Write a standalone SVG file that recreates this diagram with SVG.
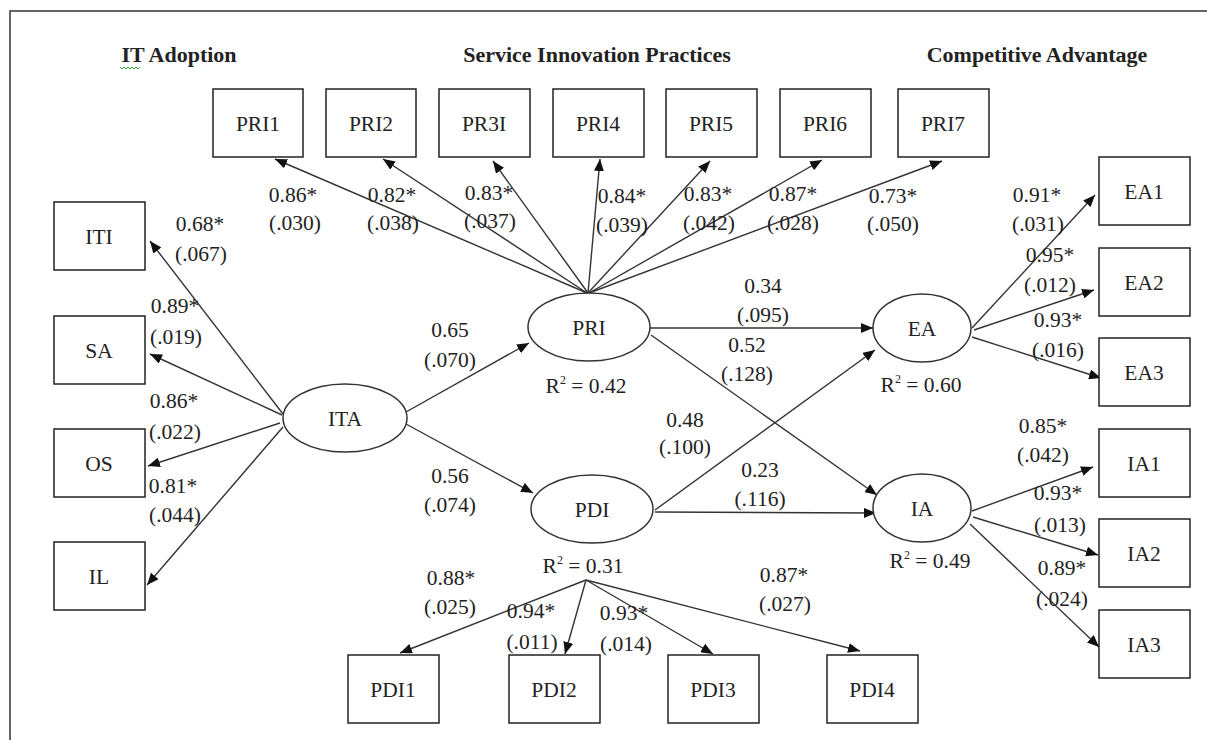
<svg xmlns="http://www.w3.org/2000/svg" width="1207" height="740" viewBox="0 0 1207 740">
<style>
text{font-family:"Liberation Serif","Times New Roman",serif;font-size:21.5px;fill:#222;text-anchor:middle}
.h{font-weight:bold;font-size:22px}
.box{fill:#fff;stroke:#222;stroke-width:1.5}
.ell{fill:#fff;stroke:#333;stroke-width:1.5}
.c{stroke:#333;stroke-width:1.4;fill:none;marker-end:url(#ah)}
</style>
<defs>
<marker id="ah" viewBox="0 0 12 10" refX="12" refY="5" markerWidth="12" markerHeight="10" markerUnits="userSpaceOnUse" orient="auto">
<path d="M0,0 L12,5 L0,10 z" fill="#111"/>
</marker>
</defs>
<rect x="0" y="0" width="1207" height="740" fill="#fff"/>
<rect x="10" y="11" width="1220" height="760" fill="none" stroke="#333" stroke-width="1.5"/>

<g id="headers">
<text class="h" x="179" y="62">IT Adoption</text>
<path d="M120,67 l2,2 l2,-2 l2,2 l2,-2 l2,2 l2,-2 l2,2 l2,-2 l2,2 l2,-2" fill="none" stroke="#3a3" stroke-width="1"/>
<text class="h" x="597" y="62">Service Innovation Practices</text>
<text class="h" x="1037" y="62">Competitive Advantage</text>
</g>

<g id="connectors">
<line class="c" x1="283" y1="414" x2="150" y2="241"/>
<line class="c" x1="282" y1="415" x2="150" y2="354"/>
<line class="c" x1="280" y1="423" x2="148" y2="466"/>
<line class="c" x1="283" y1="427" x2="147" y2="585"/>
<line class="c" x1="406" y1="412" x2="529" y2="343"/>
<line class="c" x1="406" y1="424" x2="533" y2="493"/>
<line class="c" x1="587" y1="293" x2="275" y2="159"/>
<line class="c" x1="587" y1="293" x2="383" y2="159"/>
<line class="c" x1="588" y1="293" x2="493" y2="161"/>
<line class="c" x1="588" y1="293" x2="600" y2="159"/>
<line class="c" x1="588" y1="293" x2="710" y2="161"/>
<line class="c" x1="589" y1="293" x2="822" y2="160"/>
<line class="c" x1="589" y1="293" x2="942" y2="161"/>
<line class="c" x1="650" y1="328" x2="873" y2="328"/>
<line class="c" x1="651" y1="335" x2="877" y2="495"/>
<line class="c" x1="655" y1="510" x2="875" y2="350"/>
<line class="c" x1="655" y1="512" x2="876" y2="513"/>
<line class="c" x1="972" y1="328" x2="1095" y2="195"/>
<line class="c" x1="974" y1="330" x2="1094" y2="290"/>
<line class="c" x1="972" y1="337" x2="1101" y2="378"/>
<line class="c" x1="972" y1="511" x2="1093" y2="467"/>
<line class="c" x1="973" y1="517" x2="1098" y2="555"/>
<line class="c" x1="970" y1="524" x2="1099" y2="647"/>
<line class="c" x1="586" y1="580" x2="400" y2="653"/>
<line class="c" x1="586" y1="580" x2="565" y2="654"/>
<line class="c" x1="586" y1="580" x2="713" y2="654"/>
<line class="c" x1="586" y1="580" x2="860" y2="651"/>
</g>

<g id="labels">
<text x="200" y="231">0.68*</text><text x="201" y="261">(.067)</text>
<text x="175" y="313">0.89*</text><text x="176" y="344">(.019)</text>
<text x="174" y="408">0.86*</text><text x="175" y="439">(.022)</text>
<text x="173" y="493">0.81*</text><text x="175" y="522">(.044)</text>

<text x="293" y="202">0.86*</text><text x="295" y="230">(.030)</text>
<text x="392" y="202">0.82*</text><text x="393" y="230">(.038)</text>
<text x="489" y="200">0.83*</text><text x="490" y="228">(.037)</text>
<text x="622" y="203">0.84*</text><text x="622" y="232">(.039)</text>
<text x="708" y="201">0.83*</text><text x="709" y="230">(.042)</text>
<text x="793" y="201">0.87*</text><text x="793" y="230">(.028)</text>
<text x="893" y="203">0.73*</text><text x="893" y="231">(.050)</text>

<text x="1037" y="202">0.91*</text><text x="1038" y="231">(.031)</text>
<text x="1050" y="262">0.95*</text><text x="1050" y="292">(.012)</text>
<text x="1058" y="327">0.93*</text><text x="1058" y="357">(.016)</text>
<text x="1043" y="433">0.85*</text><text x="1043" y="462">(.042)</text>
<text x="1058" y="500">0.93*</text><text x="1060" y="532">(.013)</text>
<text x="1062" y="575">0.89*</text><text x="1062" y="606">(.024)</text>

<text x="450" y="337">0.65</text><text x="450" y="367">(.070)</text>
<text x="450" y="483">0.56</text><text x="450" y="512">(.074)</text>
<text x="763" y="293">0.34</text><text x="763" y="322">(.095)</text>
<text x="747" y="352">0.52</text><text x="747" y="381">(.128)</text>
<text x="685" y="427">0.48</text><text x="685" y="454">(.100)</text>
<text x="760" y="477">0.23</text><text x="760" y="506">(.116)</text>

<text x="451" y="585">0.88*</text><text x="450" y="614">(.025)</text>
<text x="531" y="618">0.94*</text><text x="532" y="649">(.011)</text>
<text x="624" y="620">0.93*</text><text x="626" y="651">(.014)</text>
<text x="784" y="582">0.87*</text><text x="785" y="611">(.027)</text>

<text x="586" y="393">R<tspan font-size="12" dy="-9">2</tspan><tspan dy="9"> = 0.42</tspan></text>
<text x="583" y="573">R<tspan font-size="12" dy="-9">2</tspan><tspan dy="9"> = 0.31</tspan></text>
<text x="921" y="392">R<tspan font-size="12" dy="-9">2</tspan><tspan dy="9"> = 0.60</tspan></text>
<text x="930" y="568">R<tspan font-size="12" dy="-9">2</tspan><tspan dy="9"> = 0.49</tspan></text>
</g>

<g id="ITA"><ellipse class="ell" cx="345" cy="418" rx="62" ry="34"/><text x="345" y="426">ITA</text></g>
<g id="PRI"><ellipse class="ell" cx="589" cy="327" rx="61" ry="34"/><text x="589" y="335">PRI</text></g>
<g id="PDI"><ellipse class="ell" cx="592" cy="509" rx="61" ry="34"/><text x="592" y="517">PDI</text></g>
<g id="EA"><ellipse class="ell" cx="922" cy="328" rx="49" ry="34"/><text x="922" y="336">EA</text></g>
<g id="IA"><ellipse class="ell" cx="922" cy="508" rx="49" ry="34"/><text x="922" y="516">IA</text></g>

<g id="PRI1"><rect class="box" x="213" y="89" width="90" height="68"/><text x="258" y="131">PRI1</text></g>
<g id="PRI2"><rect class="box" x="326" y="89" width="90" height="68"/><text x="371" y="131">PRI2</text></g>
<g id="PR3I"><rect class="box" x="439" y="89" width="91" height="68"/><text x="484" y="131">PR3I</text></g>
<g id="PRI4"><rect class="box" x="553" y="89" width="91" height="68"/><text x="598" y="131">PRI4</text></g>
<g id="PRI5"><rect class="box" x="666" y="89" width="91" height="68"/><text x="711" y="131">PRI5</text></g>
<g id="PRI6"><rect class="box" x="780" y="89" width="91" height="68"/><text x="825" y="131">PRI6</text></g>
<g id="PRI7"><rect class="box" x="898" y="89" width="91" height="68"/><text x="943" y="131">PRI7</text></g>

<g id="ITI"><rect class="box" x="54" y="202" width="91" height="68"/><text x="99" y="244">ITI</text></g>
<g id="SA"><rect class="box" x="54" y="316" width="91" height="68"/><text x="99" y="358">SA</text></g>
<g id="OS"><rect class="box" x="54" y="429" width="91" height="68"/><text x="99" y="471">OS</text></g>
<g id="IL"><rect class="box" x="54" y="542" width="91" height="68"/><text x="99" y="584">IL</text></g>

<g id="EA1"><rect class="box" x="1099" y="157" width="91" height="68"/><text x="1144" y="199">EA1</text></g>
<g id="EA2"><rect class="box" x="1099" y="248" width="91" height="68"/><text x="1144" y="290">EA2</text></g>
<g id="EA3"><rect class="box" x="1099" y="338" width="91" height="68"/><text x="1144" y="380">EA3</text></g>
<g id="IA1"><rect class="box" x="1099" y="429" width="91" height="68"/><text x="1144" y="471">IA1</text></g>
<g id="IA2"><rect class="box" x="1099" y="519" width="91" height="68"/><text x="1144" y="561">IA2</text></g>
<g id="IA3"><rect class="box" x="1099" y="610" width="91" height="68"/><text x="1144" y="652">IA3</text></g>

<g id="PDI1"><rect class="box" x="348" y="655" width="91" height="68"/><text x="393" y="697">PDI1</text></g>
<g id="PDI2"><rect class="box" x="509" y="655" width="91" height="68"/><text x="554" y="697">PDI2</text></g>
<g id="PDI3"><rect class="box" x="668" y="655" width="91" height="68"/><text x="713" y="697">PDI3</text></g>
<g id="PDI4"><rect class="box" x="827" y="655" width="91" height="68"/><text x="872" y="697">PDI4</text></g>
</svg>
